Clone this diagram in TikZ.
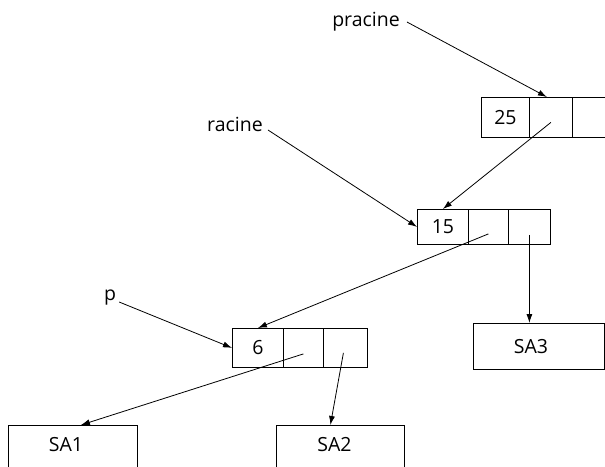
\documentclass[tikz,border=0pt]{standalone}
\usepackage{fontspec}
\setmainfont{Open Sans}
\usetikzlibrary{arrows.meta}
\begin{document}
\begin{tikzpicture}[x=1pt,y=-1pt,
  cell/.style={draw,line width=0.8pt,minimum height=#1,inner sep=0pt,anchor=north west,font=\fontsize{19.5}{22}\selectfont},
  cell/.default=36pt,
  lbl/.style={inner sep=1pt,font=\fontsize{19.5}{22}\selectfont},
  ptr/.style={line width=0.8pt,-{Latex[length=9pt,width=6pt]}}]
\useasboundingbox (0,0) rectangle (605,466);
\clip (0,0) rectangle (605,466);
% node 25
\node[cell=40pt,minimum width=48pt] (a1) at (481,97) {25};
\node[cell=40pt,minimum width=43pt] (a2) at (529,97) {};
\node[cell=40pt,minimum width=43pt] (a3) at (572,97) {};
% node 15
\node[cell=35pt,minimum width=51pt] (b1) at (417,209) {15};
\node[cell=35pt,minimum width=40pt] (b2) at (468,209) {};
\node[cell=35pt,minimum width=42pt] (b3) at (508,209) {};
% node 6
\node[cell=39pt,minimum width=51pt] (c1) at (232,328) {6};
\node[cell=39pt,minimum width=40pt] (c2) at (283,328) {};
\node[cell=39pt,minimum width=44pt] (c3) at (323,328) {};
% subtrees
\node[cell=46pt,minimum width=131pt] (sa3) at (473,323) {SA3\hspace*{16pt}};
\node[cell=70pt,minimum width=129pt] (sa1) at (8,425) {\raisebox{9pt}[0pt][0pt]{SA1}\hspace*{14pt}};
\node[cell=70pt,minimum width=128pt] (sa2) at (276,425) {\raisebox{9pt}[0pt][0pt]{SA2}\hspace*{12pt}};
% labels
\node[lbl] (pr) at (366,22) {pracine};
\node[lbl] (ra) at (235,124) {racine};
\node[lbl] (p) at (110,298) {p};
% pointer origins
\coordinate (o25) at ([yshift=-5pt]a2.center);
\coordinate (o15m) at ([yshift=-7pt]b2.center);
\coordinate (o15r) at ([yshift=-8pt]b3.center);
\coordinate (o6m) at ([yshift=-6pt]c2.center);
\coordinate (o6r) at ([xshift=-2pt,yshift=-5pt]c3.center);
% arrows
\draw[ptr] ([xshift=6pt]pr.east) -- ([xshift=-4pt]a2.north);
\draw[ptr] (o25) -- (b1.north);
\draw[ptr] ([xshift=4pt,yshift=-6pt]ra.east) -- (b1.west);
\draw[ptr] (o15m) -- (c1.north);
\draw[ptr] (o15r) -- (o15r |- sa3.north);
\draw[ptr] ([xshift=2pt,yshift=-4pt]p.east) -- (c1.west);
\draw[ptr] (o6m) -- ([xshift=8pt]sa1.north);
\draw[ptr] (o6r) -- ([xshift=-10pt]sa2.north);
\end{tikzpicture}
\end{document}
